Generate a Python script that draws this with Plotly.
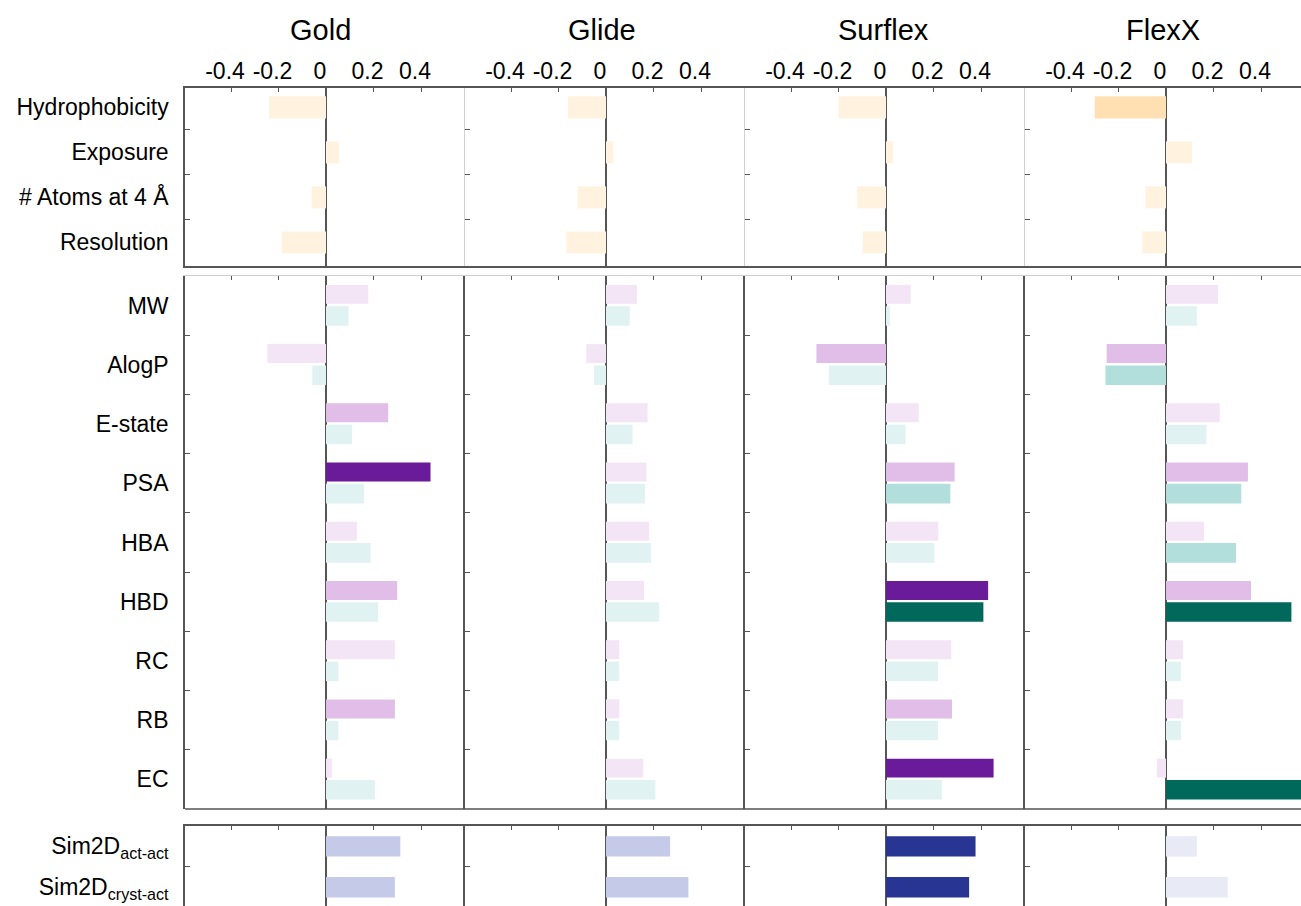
import plotly.graph_objects as go

W, H = 1301, 906
FONT = "Arial, Liberation Sans, sans-serif"

methods = ["Gold", "Glide", "Surflex", "FlexX"]
protein_desc = ["Hydrophobicity", "Exposure", "# Atoms at 4 Å", "Resolution"]
ligand_desc = ["MW", "AlogP", "E-state", "PSA", "HBA", "HBD", "RC", "RB", "EC"]
sim_desc = ["Sim2D<sub>act-act</sub>", "Sim2D<sub>cryst-act</sub>"]
x_tickvals = [-0.4, -0.2, 0, 0.2, 0.4]
x_ticktext = ["-0.4", "-0.2", "0", "0.2", "0.4"]

# ---- protein descriptors (one bar per descriptor) ----
gold_protein = [-0.24, 0.055, -0.06, -0.187]
glide_protein = [-0.16, 0.03, -0.12, -0.167]
surflex_protein = [-0.20, 0.03, -0.122, -0.098]
flexx_protein = [-0.30, 0.11, -0.087, -0.10]
gold_protein_sig = [0, 0, 0, 0]
glide_protein_sig = [0, 0, 0, 0]
surflex_protein_sig = [0, 0, 0, 0]
flexx_protein_sig = [1, 0, 0, 0]

# ---- ligand descriptors: series A (purple) and series B (teal) ----
gold_lig_a = [0.178, -0.247, 0.262, 0.44, 0.13, 0.30, 0.29, 0.29, 0.025]
gold_lig_b = [0.095, -0.058, 0.11, 0.16, 0.188, 0.22, 0.052, 0.052, 0.206]
glide_lig_a = [0.13, -0.083, 0.175, 0.171, 0.182, 0.16, 0.056, 0.056, 0.157]
glide_lig_b = [0.10, -0.05, 0.112, 0.164, 0.19, 0.223, 0.055, 0.055, 0.208]
surflex_lig_a = [0.104, -0.293, 0.138, 0.289, 0.22, 0.43, 0.275, 0.278, 0.453]
surflex_lig_b = [0.017, -0.24, 0.082, 0.271, 0.204, 0.41, 0.219, 0.219, 0.235]
flexx_lig_a = [0.219, -0.25, 0.226, 0.345, 0.16, 0.358, 0.072, 0.072, -0.039]
flexx_lig_b = [0.13, -0.255, 0.17, 0.317, 0.295, 0.528, 0.063, 0.063, 0.60]

gold_lig_a_sig = [0, 0, 1, 2, 0, 1, 0, 1, 0]
gold_lig_b_sig = [0, 0, 0, 0, 0, 0, 0, 0, 0]
glide_lig_a_sig = [0, 0, 0, 0, 0, 0, 0, 0, 0]
glide_lig_b_sig = [0, 0, 0, 0, 0, 0, 0, 0, 0]
surflex_lig_a_sig = [0, 1, 0, 1, 0, 2, 0, 1, 2]
surflex_lig_b_sig = [0, 0, 0, 1, 0, 2, 0, 0, 0]
flexx_lig_a_sig = [0, 1, 0, 1, 0, 1, 0, 0, 0]
flexx_lig_b_sig = [0, 1, 0, 1, 1, 2, 0, 0, 2]

# ---- 2D similarity ----
gold_sim = [0.313, 0.29]
glide_sim = [0.27, 0.347]
surflex_sim = [0.377, 0.35]
flexx_sim = [0.13, 0.26]
gold_sim_sig = [1, 1]
glide_sim_sig = [1, 1]
surflex_sim_sig = [2, 2]
flexx_sim_sig = [0, 0]

protein_vals = [gold_protein, glide_protein, surflex_protein, flexx_protein]
protein_sig = [gold_protein_sig, glide_protein_sig, surflex_protein_sig, flexx_protein_sig]
lig_a = [gold_lig_a, glide_lig_a, surflex_lig_a, flexx_lig_a]
lig_b = [gold_lig_b, glide_lig_b, surflex_lig_b, flexx_lig_b]
lig_a_sig = [gold_lig_a_sig, glide_lig_a_sig, surflex_lig_a_sig, flexx_lig_a_sig]
lig_b_sig = [gold_lig_b_sig, glide_lig_b_sig, surflex_lig_b_sig, flexx_lig_b_sig]
sim_vals = [gold_sim, glide_sim, surflex_sim, flexx_sim]
sim_sig = [gold_sim_sig, glide_sim_sig, surflex_sim_sig, flexx_sim_sig]

ORANGE = ["#FFF3E0", "#FFE0B2", "#FFB74D"]
PURPLE = ["#F3E5F5", "#E1BEE7", "#6A1B9A"]
TEAL = ["#E0F2F1", "#B2DFDB", "#00695C"]
INDIGO = ["#E8EAF6", "#C5CAE9", "#283593"]

DARK = "#555555"
LIGHT = "#d0d0d0"

x_px = [(185, 465), (465, 745), (745, 1025), (1025, 1301)]
y_px = [(88, 266), (276, 809), (826, 906)]
PX_PER_UNIT = 237.5
ZERO_OFF = 141

fig = go.Figure()
layout = {}

for r in range(3):
    for c in range(4):
        k = r * 4 + c + 1
        xa = "x" if k == 1 else f"x{k}"
        ya = "y" if k == 1 else f"y{k}"
        xkey = "xaxis" if k == 1 else f"xaxis{k}"
        ykey = "yaxis" if k == 1 else f"yaxis{k}"

        if r == 0:
            cats = protein_desc
            fig.add_trace(go.Bar(
                x=protein_vals[c], y=protein_desc, orientation="h", width=0.49,
                marker=dict(color=[ORANGE[s] for s in protein_sig[c]], line=dict(width=0)),
                xaxis=xa, yaxis=ya, showlegend=False, hoverinfo="x+y"))
            yrange = [3.524, -0.431]
        elif r == 1:
            cats = ligand_desc
            fig.add_trace(go.Bar(
                x=lig_a[c], y=ligand_desc, orientation="h", width=0.32, offset=-0.35,
                marker=dict(color=[PURPLE[s] for s in lig_a_sig[c]], line=dict(width=0)),
                xaxis=xa, yaxis=ya, showlegend=False, hoverinfo="x+y"))
            fig.add_trace(go.Bar(
                x=lig_b[c], y=ligand_desc, orientation="h", width=0.33, offset=0.01,
                marker=dict(color=[TEAL[s] for s in lig_b_sig[c]], line=dict(width=0)),
                xaxis=xa, yaxis=ya, showlegend=False, hoverinfo="x+y"))
            yrange = [len(cats) - 0.5, -0.5]
        else:
            cats = sim_desc
            fig.add_trace(go.Bar(
                x=sim_vals[c], y=sim_desc, orientation="h", width=0.5,
                marker=dict(color=[INDIGO[s] for s in sim_sig[c]], line=dict(width=0)),
                xaxis=xa, yaxis=ya, showlegend=False, hoverinfo="x+y"))
            yrange = [1.46, -0.5]

        x0, x1 = x_px[c]
        y0, y1 = y_px[r]
        xr = [-ZERO_OFF / PX_PER_UNIT, (x1 - x0 - ZERO_OFF) / PX_PER_UNIT]

        if r == 0:
            xline = dict(showline=True, linecolor=DARK, linewidth=1.5, mirror=True)
        elif r == 1:
            xline = dict(showline=True, linecolor=LIGHT, linewidth=1, mirror=False)
        else:
            xline = dict(showline=True, linecolor=DARK, linewidth=1.5, mirror=False)

        layout[xkey] = dict(
            domain=[x0 / W, x1 / W], range=xr, anchor=ya, side="top",
            tickmode="array", tickvals=x_tickvals, ticktext=x_ticktext,
            showticklabels=(r == 0), ticks="inside", ticklen=4, tickwidth=1,
            tickcolor=DARK, showgrid=False, zeroline=True, zerolinecolor=DARK,
            zerolinewidth=1.5, ticklabelstandoff=-2, ticklabelshift=-6,
            tickfont=dict(size=23, color="black", family=FONT),
            fixedrange=True, **xline)

        if r == 0:
            ycol = DARK if c == 0 else LIGHT
            ylw = 1.5 if c == 0 else 1
        else:
            ycol = DARK
            ylw = 1.7

        layout[ykey] = dict(
            domain=[1 - y1 / H, 1 - y0 / H], anchor=xa, type="category",
            categoryorder="array", categoryarray=cats, range=yrange,
            showticklabels=(c == 0), ticks="inside", tickson="boundaries",
            ticklen=5, tickwidth=1, tickcolor=DARK, showgrid=False, zeroline=False,
            showline=True, linecolor=ycol, linewidth=ylw, mirror=False,
            ticklabelstandoff=10,
            tickfont=dict(size=23, color="black", family=FONT),
            fixedrange=True)

shapes = [dict(type="line", xref="paper", yref="paper",
               x0=185 / W, x1=1.0, y0=1 - 809 / H, y1=1 - 809 / H,
               line=dict(color=DARK, width=1.5))]

title_px = [320, 602, 884, 1163]
annotations = [dict(text=m, xref="paper", yref="paper", x=title_px[i] / W,
                    y=1 - 30 / H, xanchor="center", yanchor="middle",
                    showarrow=False, font=dict(size=29, color="black", family=FONT))
               for i, m in enumerate(methods)]

fig.update_layout(
    width=W, height=H, margin=dict(l=0, r=0, t=0, b=0),
    paper_bgcolor="white", plot_bgcolor="white", barmode="overlay",
    showlegend=False, shapes=shapes, annotations=annotations,
    font=dict(family=FONT, color="black"), **layout)

fig.write_html("out.html")
